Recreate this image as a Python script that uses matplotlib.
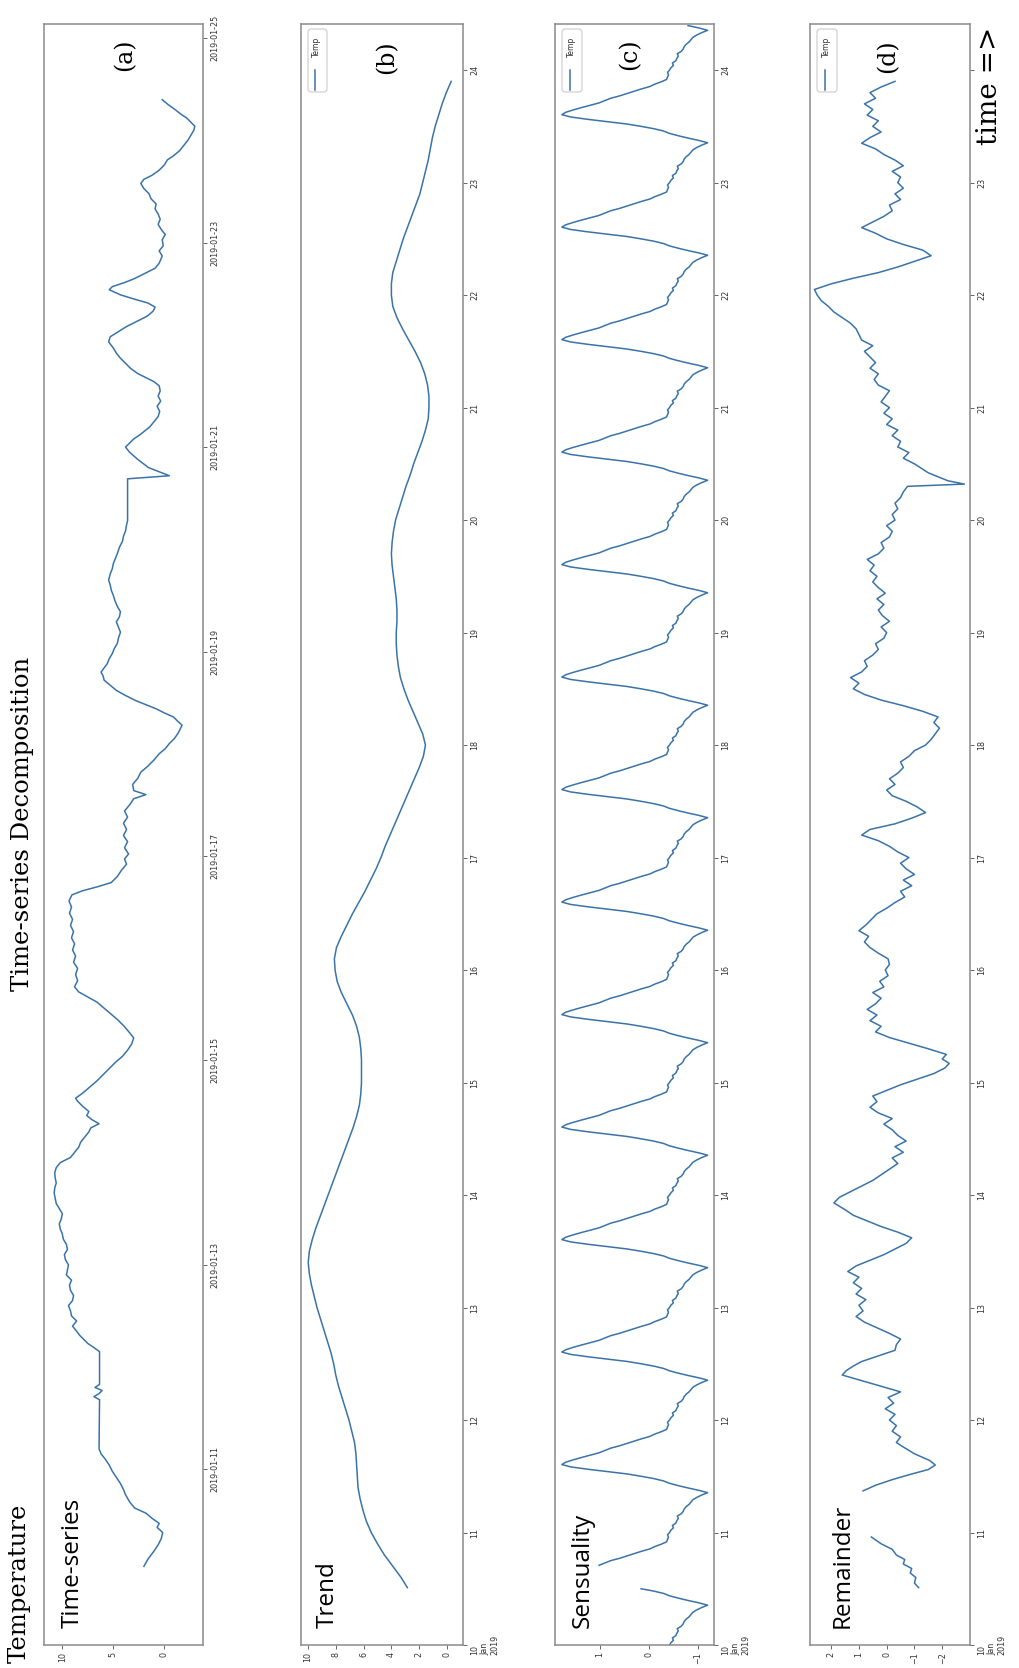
import numpy as np
import matplotlib
matplotlib.use("Agg")
import matplotlib.pyplot as plt
import pandas as pd
from matplotlib.patches import FancyBboxPatch
from matplotlib.lines import Line2D

# ---- data (day of January 2019 as float, value) ----
obs_t = [10.05, 10.12, 10.2, 10.26, 10.32, 10.38, 10.43, 10.47, 10.52, 10.57,
         10.62, 10.68, 10.75, 10.8, 10.86, 10.92, 10.98, 11.04, 11.1, 11.15,
         11.2, 11.68, 11.71, 11.74, 11.77, 11.8, 11.83, 12.15, 12.19, 12.23,
         12.27, 12.31, 12.35, 12.4, 12.45, 12.5, 12.55, 12.6, 12.65, 12.7,
         12.75, 12.8, 12.85, 12.9, 12.95, 13.0, 13.05, 13.1, 13.15, 13.2,
         13.25, 13.3, 13.35, 13.4, 13.45, 13.5, 13.55, 13.6, 13.65, 13.7,
         13.75, 13.8, 13.85, 13.9, 13.95, 14.0, 14.05, 14.1, 14.15, 14.2,
         14.25, 14.3, 14.34, 14.38, 14.42, 14.46, 14.5, 14.55, 14.6, 14.63,
         14.68, 14.74, 14.8, 14.86, 14.92, 14.98, 15.04, 15.1, 15.16, 15.22,
         15.27, 15.33, 15.4, 15.46, 15.52, 15.57, 15.62, 15.67, 15.72, 15.78,
         15.84, 15.9, 15.96, 16.02, 16.08, 16.14, 16.2, 16.26, 16.32, 16.38,
         16.44, 16.5, 16.56, 16.62, 16.66, 16.7, 16.74, 16.8, 16.86, 16.92,
         16.97, 17.02, 17.08, 17.14, 17.2, 17.26, 17.32, 17.38, 17.44, 17.5,
         17.56, 17.6, 17.64, 17.7, 17.76, 17.82, 17.88, 17.94, 18.0, 18.05,
         18.1, 18.15, 18.2, 18.25, 18.28, 18.32, 18.36, 18.4, 18.44, 18.48,
         18.52, 18.57, 18.62, 18.67, 18.72, 18.76, 18.8, 18.84, 18.88, 18.93,
         18.98, 19.03, 19.08, 19.13, 19.19, 19.24, 19.29, 19.34, 19.39, 19.44,
         19.5, 19.55, 19.6, 19.65, 19.7, 19.76, 19.81, 19.86, 19.91, 19.96,
         20.02, 20.08, 20.13, 20.18, 20.24, 20.28, 20.69, 20.72, 20.8, 20.88,
         20.95, 21.0, 21.04, 21.08, 21.12, 21.16, 21.2, 21.25, 21.3, 21.35,
         21.4, 21.45, 21.5, 21.55, 21.6, 21.64, 21.68, 21.72, 21.77, 21.82,
         21.87, 21.92, 21.97, 22.03, 22.08, 22.13, 22.18, 22.23, 22.28, 22.33,
         22.37, 22.41, 22.45, 22.49, 22.54, 22.57, 22.61, 22.65, 22.7, 22.75,
         22.8, 22.87, 22.92, 22.97, 23.03, 23.08, 23.13, 23.18, 23.23, 23.28,
         23.33, 23.38, 23.43, 23.48, 23.53, 23.58, 23.62, 23.66, 23.71, 23.76,
         23.81, 23.85, 23.9, 23.95, 24.0, 24.05, 24.1, 24.14, 24.18, 24.22,
         24.26, 24.3, 24.35, 24.4]
obs_v = [2.0, 1.6, 1.0, 0.6, 0.3, 0.15, 0.7, 0.5, 1.2, 1.8,
         2.9, 3.4, 3.8, 4.0, 4.3, 4.7, 5.1, 5.4, 5.8, 6.2,
         6.4, 6.35, 6.9, 6.4, 6.1, 6.8, 6.35, 6.35, 6.9, 7.5,
         7.9, 8.3, 8.6, 9.0, 8.6, 9.1, 9.2, 9.4, 9.0, 8.9,
         9.2, 9.3, 9.1, 9.6, 9.5, 9.4, 9.7, 9.8, 9.5, 9.6,
         9.9, 10.0, 10.2, 10.3, 10.1, 10.0, 10.3, 10.6, 10.7, 10.8,
         10.75, 10.6, 10.7, 10.75, 10.6, 10.2, 9.2, 8.8, 8.4, 8.2,
         7.8, 7.4, 7.2, 6.4, 7.1, 7.6, 7.4, 8.0, 8.5, 8.7,
         8.0, 7.3, 6.6, 6.0, 5.4, 4.8, 4.1, 3.6, 3.2, 3.0,
         3.4, 3.9, 4.6, 5.3, 6.0, 6.6, 7.5, 8.4, 8.8, 8.5,
         8.7, 8.5, 8.9, 8.7, 9.0, 8.8, 9.1, 8.9, 9.2, 9.0,
         9.3, 9.1, 9.35, 9.05, 8.0, 6.5, 5.2, 4.6, 4.2, 3.7,
         3.9, 3.5, 3.9, 3.6, 4.0, 3.7, 4.0, 3.6, 3.9, 3.4,
         3.0, 1.8, 3.0, 3.1, 2.6, 2.3, 1.6, 1.0, 0.5, -0.1,
         -0.5, -1.0, -1.35, -1.6, -1.75, -1.3, -0.9, 0.0, 0.8, 1.8,
         2.8, 3.8, 4.7, 5.3, 5.9, 6.0, 6.2, 5.9, 5.6, 5.4,
         5.1, 4.9, 4.6, 4.5, 4.3, 4.5, 4.7, 4.4, 4.3, 4.6,
         4.85, 5.0, 5.2, 5.3, 5.46, 5.3, 5.1, 5.0, 4.8, 4.6,
         4.4, 4.1, 4.0, 3.8, 3.7, 3.6, 3.6, -0.5, 1.55, 2.6,
         3.4, 3.8, 3.4, 3.0, 2.4, 1.9, 1.4, 1.0, 0.6, 0.45,
         0.7, 0.35, 0.6, 0.4, 0.5, 1.0, 1.8, 2.6, 3.3, 3.8,
         4.3, 4.7, 5.0, 5.46, 5.3, 4.5, 3.7, 2.7, 1.7, 1.1,
         0.9, 1.6, 3.0, 4.3, 5.4, 5.1, 3.9, 2.9, 1.9, 0.9,
         0.5, 0.2, 0.5, 0.1, 0.2, -0.1, 0.3, 0.6, 0.4, 0.6,
         0.9, 0.8, 1.3, 1.5, 2.0, 2.3, 2.0, 1.2, 0.5, 0.0,
         -0.3, -0.9, -1.5, -1.9, -2.3, -2.6, -2.9, -3.0, -2.6, -2.2,
         -1.6, -1.1, -0.4, 0.2]

trend_t = [10.51, 10.6, 10.7, 10.8, 10.9, 11.0, 11.1, 11.2, 11.3, 11.4, 11.5, 11.6, 11.7, 11.8, 11.9,
           12.0, 12.1, 12.2, 12.3, 12.4, 12.5, 12.6, 12.7, 12.8, 12.9, 13.0, 13.1, 13.2, 13.3, 13.4,
           13.5, 13.6, 13.7, 13.8, 13.9, 14.0, 14.1, 14.2, 14.3, 14.4, 14.5, 14.6, 14.7, 14.8, 14.9,
           15.0, 15.1, 15.2, 15.3, 15.4, 15.5, 15.6, 15.7, 15.8, 15.9, 16.0, 16.1, 16.2, 16.3, 16.4,
           16.5, 16.6, 16.7, 16.8, 16.9, 17.0, 17.1, 17.2, 17.3, 17.4, 17.5, 17.6, 17.7, 17.8, 17.9,
           18.0, 18.1, 18.2, 18.3, 18.4, 18.5, 18.6, 18.7, 18.8, 18.9, 19.0, 19.1, 19.2, 19.3, 19.4,
           19.5, 19.6, 19.7, 19.8, 19.9, 20.0, 20.1, 20.2, 20.3, 20.4, 20.5, 20.6, 20.7, 20.8, 20.9,
           21.0, 21.1, 21.2, 21.3, 21.4, 21.5, 21.6, 21.7, 21.8, 21.9, 22.0, 22.1, 22.2, 22.3, 22.4,
           22.5, 22.6, 22.7, 22.8, 22.9, 23.0, 23.1, 23.2, 23.3, 23.4, 23.5, 23.6, 23.7, 23.8, 23.9]
trend_v = [2.85, 3.3, 3.9, 4.5, 5.0, 5.45, 5.8, 6.05, 6.25, 6.4, 6.45, 6.5, 6.55, 6.65, 6.85,
           7.05, 7.3, 7.55, 7.8, 8.0, 8.15, 8.35, 8.6, 8.85, 9.1, 9.35, 9.55, 9.75, 9.9, 9.98,
           9.9, 9.7, 9.45, 9.15, 8.85, 8.55, 8.25, 7.95, 7.65, 7.35, 7.05, 6.75, 6.5, 6.3, 6.2,
           6.15, 6.15, 6.15, 6.2, 6.3, 6.5, 6.8, 7.2, 7.6, 7.9, 8.05, 8.1, 7.95, 7.6, 7.2,
           6.8, 6.35, 5.9, 5.5, 5.1, 4.75, 4.45, 4.1, 3.75, 3.4, 3.05, 2.7, 2.35, 2.0, 1.7,
           1.55, 1.75, 2.1, 2.45, 2.8, 3.1, 3.35, 3.5, 3.6, 3.65, 3.65, 3.6, 3.6, 3.65, 3.75,
           3.85, 3.95, 4.0, 3.95, 3.85, 3.7, 3.45, 3.2, 2.95, 2.65, 2.4, 2.1, 1.8, 1.55, 1.35,
           1.3, 1.3, 1.4, 1.6, 1.9, 2.3, 2.75, 3.2, 3.6, 3.9, 4.0, 4.0, 3.9, 3.65, 3.4,
           3.15, 2.85, 2.55, 2.25, 1.95, 1.75, 1.55, 1.35, 1.2, 1.05, 0.85, 0.6, 0.35, 0.05, -0.3]

# one day of the seasonal component, every 30 minutes from 00:00
season_day = [-0.42, -0.45, -0.50, -0.48, -0.55, -0.57, -0.60, -0.58, -0.66, -0.70, -0.72, -0.76,
              -0.82, -0.86, -0.90, -0.98, -1.08, -1.20, -1.02, -0.80, -0.60, -0.42, -0.30, -0.10,
              0.16, 0.45, 0.85, 1.25, 1.60, 1.78, 1.70, 1.55, 1.38, 1.20, 1.02, 0.90,
              0.78, 0.60, 0.45, 0.30, 0.15, -0.02, -0.12, -0.25, -0.36, -0.38, -0.40, -0.38]
season_gap = (10.5, 10.7)
season_dot = 10.604

res_t = [10.51, 10.55, 10.6, 10.64, 10.68, 10.72, 10.76, 10.8, 10.85, 10.9, 10.96, 11.15,
         11.37, 11.42, 11.47, 11.52, 11.56, 11.6, 11.64, 11.7, 11.76, 11.8, 11.85, 11.9, 11.95, 12.0,
         12.05, 12.1, 12.15, 12.2, 12.25, 12.3, 12.35, 12.4, 12.44, 12.48, 12.52, 12.57, 12.62, 12.67,
         12.72, 12.77, 12.82, 12.87, 12.92, 12.97, 13.02, 13.07, 13.12, 13.17, 13.22, 13.27, 13.32,
         13.37, 13.42, 13.47, 13.52, 13.57, 13.62, 13.67, 13.72, 13.77, 13.82, 13.87, 13.93, 13.98,
         14.03, 14.08, 14.13, 14.18, 14.23, 14.28, 14.33, 14.38, 14.43, 14.48, 14.53, 14.58, 14.63,
         14.68, 14.73, 14.78, 14.83, 14.88, 14.93, 14.98, 15.03, 15.08, 15.13, 15.17, 15.21, 15.25,
         15.3, 15.35, 15.4, 15.45, 15.5, 15.55, 15.6, 15.65, 15.7, 15.75, 15.8, 15.85, 15.9, 15.95,
         16.0, 16.05, 16.1, 16.15, 16.2, 16.25, 16.3, 16.35, 16.4, 16.45, 16.5, 16.55, 16.6, 16.65,
         16.7, 16.75, 16.8, 16.85, 16.9, 16.95, 17.0, 17.05, 17.1, 17.15, 17.2, 17.25, 17.3, 17.35,
         17.4, 17.45, 17.5, 17.55, 17.6, 17.65, 17.7, 17.75, 17.8, 17.85, 17.9, 17.95, 18.0, 18.05,
         18.1, 18.15, 18.2, 18.25, 18.3, 18.35, 18.4, 18.45, 18.5, 18.55, 18.6, 18.65, 18.7, 18.75,
         18.8, 18.85, 18.9, 18.95, 19.0, 19.05, 19.1, 19.15, 19.2, 19.25, 19.3, 19.35, 19.4, 19.45,
         19.5, 19.55, 19.6, 19.65, 19.7, 19.75, 19.8, 19.85, 19.9, 19.95, 20.0, 20.05, 20.1, 20.15,
         20.2, 20.25, 20.3, 20.32, 20.35, 20.42, 20.5, 20.55, 20.6, 20.65, 20.7, 20.75, 20.8, 20.85,
         20.9, 20.95, 21.0, 21.05, 21.1, 21.15, 21.2, 21.25, 21.3, 21.35, 21.4, 21.45, 21.5, 21.55,
         21.6, 21.65, 21.7, 21.75, 21.8, 21.85, 21.9, 21.95, 22.0, 22.05, 22.1, 22.15, 22.2, 22.25,
         22.3, 22.35, 22.4, 22.45, 22.5, 22.55, 22.6, 22.65, 22.7, 22.75, 22.8, 22.85, 22.9, 22.95,
         23.0, 23.05, 23.1, 23.15, 23.2, 23.25, 23.3, 23.35, 23.4, 23.45, 23.5, 23.55, 23.6, 23.65,
         23.7, 23.75, 23.8, 23.85, 23.9]
res_v = [-1.15, -1.0, -1.05, -0.85, -0.9, -0.6, -0.65, -0.35, -0.2, 0.2, 0.55, np.nan,
         0.85, 0.4, -0.2, -0.9, -1.5, -1.75, -1.55, -1.0, -0.6, -0.35, -0.5, -0.2, -0.35, -0.1,
         -0.3, 0.05, -0.25, -0.05, -0.5, 0.2, 0.9, 1.6, 1.45, 1.2, 0.9, 0.3, -0.3, -0.35,
         -0.5, -0.1, 0.35, 0.8, 1.1, 0.85, 1.0, 0.75, 1.1, 0.9, 1.2, 1.0, 1.4,
         1.1, 0.6, 0.1, -0.3, -0.7, -0.9, -0.4, 0.2, 0.7, 1.2, 1.5, 1.9, 1.7,
         1.3, 0.9, 0.5, 0.2, -0.1, -0.4, -0.2, -0.6, -0.3, -0.7, -0.4, -0.2, 0.1,
         -0.2, 0.3, 0.6, 0.35, 0.5, 0.0, -0.5, -1.1, -1.7, -2.1, -2.25, -2.0, -2.15,
         -1.5, -0.8, -0.1, 0.4, 0.2, 0.6, 0.35, 0.7, 0.4, 0.2, 0.5, 0.1, 0.25, -0.05,
         0.05, -0.1, -0.05, 0.3, 0.6, 0.8, 0.65, 1.0, 0.75, 0.55, 0.35, 0.0, -0.3, -0.65,
         -0.5, -0.9, -0.6, -1.0, -0.7, -0.5, -0.8, -0.4, -0.1, 0.3, 0.9, 0.6, -0.3, -0.9,
         -1.4, -1.1, -0.7, -0.2, 0.0, -0.3, -0.1, -0.4, -0.6, -0.5, -0.8, -1.0, -1.4, -1.6,
         -1.75, -1.9, -1.7, -1.85, -1.3, -0.6, 0.2, 0.8, 1.2, 1.0, 1.3, 0.9, 0.7, 0.8,
         0.5, 0.3, 0.4, 0.1, 0.0, 0.2, -0.1, 0.15, 0.3, 0.1, 0.35, 0.05, 0.3, 0.5,
         0.35, 0.6, 0.45, 0.7, 0.3, 0.1, 0.2, -0.1, -0.2, 0.0, -0.3, -0.2, -0.4, -0.3,
         -0.5, -0.6, -0.75, -2.8, -2.2, -1.5, -1.0, -0.6, -0.8, -0.4, -0.5, -0.2, -0.4, 0.0,
         -0.2, 0.1, -0.1, 0.2, 0.05, -0.1, 0.3, 0.45, 0.3, 0.6, 0.4, 0.6, 0.8, 0.5,
         0.9, 1.0, 1.1, 1.3, 1.6, 1.9, 2.1, 2.35, 2.5, 2.6, 2.0, 1.2, 0.3, -0.4,
         -1.0, -1.6, -1.3, -0.6, 0.0, 0.4, 0.9, 0.5, 0.1, -0.2, -0.1, -0.5, -0.3, -0.6,
         -0.4, -0.5, -0.2, -0.6, -0.3, 0.1, 0.4, 0.9, 0.6, 0.2, 0.5, 0.3, 0.7, 0.5,
         0.8, 0.4, 0.6, 0.2, -0.3]

data_start, data_end = 10.0, 24.41

W, H = 1020, 1668
BLUE = "#3a73a8"
SPINE = "#8a8a8a"


def to_dates(days):
    days = np.asarray(days, dtype=float)
    secs = np.round((days - 1) * 86400).astype("int64")
    return np.datetime64("2019-01-01T00:00:00") + secs.astype("timedelta64[s]")


def px_box(x0, x1, top=24, bottom=1645):
    return [x0 / W, 1 - bottom / H, (x1 - x0) / W, (bottom - top) / H]


# seasonal series, 30 min steps
season_t = data_start + np.arange(len(season_day) * 15) / 48.0
season_t = season_t[season_t <= data_end]
season_v = np.tile(season_day, 15)[:len(season_t)].astype(float)
in_gap = (season_t > season_gap[0]) & (season_t < season_gap[1])
season_v[in_gap] = np.nan
dot_i = np.argmin(abs(season_t - season_dot))

fig = plt.figure(figsize=(W / 100, H / 100), dpi=100)

panels = [
    ("a", (44, 203), (-3.8, 11.8), [0, 5, 10]),
    ("b", (301, 463), (-1.15, 10.5), [0, 2, 4, 6, 8, 10]),
    ("c", (555, 714), (-1.33, 1.92), [-1, 0, 1]),
    ("d", (810, 970), (-3.0, 2.76), [-2, -1, 0, 1, 2]),
]

axes = {}
for key, (x0, x1), (vmin, vmax), vticks in panels:
    ax = fig.add_axes(px_box(x0, x1))
    axes[key] = ax
    if key == "a":
        ax.plot(obs_v, to_dates(obs_t), color=BLUE, lw=1.1)
        ax.set_ylim(to_dates([9.28])[0], to_dates([25.14])[0])
        day_ticks = to_dates([11, 13, 15, 17, 19, 21, 23, 25])
        day_labels = list(pd.to_datetime(day_ticks).strftime("%Y-%m-%d"))
    else:
        if key == "b":
            ax.plot(trend_v, to_dates(trend_t), color=BLUE, lw=1.1)
        elif key == "c":
            ax.plot(season_v, to_dates(season_t), color=BLUE, lw=1.1)
            ax.plot([season_v[dot_i]], to_dates([season_t[dot_i]]), "o", color=BLUE, ms=1.5)
        else:
            ax.plot(res_v, to_dates(res_t), color=BLUE, lw=1.1)
        ax.set_ylim(to_dates([data_start])[0], to_dates([data_end])[0])
        day_ticks = to_dates(list(range(10, 25)))
        day_labels = [str(d.day) for d in pd.to_datetime(day_ticks)]
        day_labels[0] = "10\nJan\n2019"
        if key == "d":
            day_labels[-1] = ""  # hidden under the "time =>" note
    ax.set_xlim(vmax, vmin)
    ax.set_xticks(vticks)
    ax.set_xticklabels([str(v).replace("-", "\u2212") for v in vticks], rotation=90, fontsize=5.8,
                       color="#333333")
    ax.yaxis.tick_right()
    ax.set_yticks(day_ticks)
    ax.set_yticklabels(day_labels, rotation=90, va="center", fontsize=5.8, color="#333333")
    ax.tick_params(length=3, width=0.7, color="#666666", pad=2)
    for sp in ax.spines.values():
        sp.set_color(SPINE)
        sp.set_linewidth(1.1)

# rotated legends ("Temp") in b, c, d
for bx0, bx1, lx in [(308, 327, 315), (562, 582, 570), (817, 837, 825)]:
    fig.add_artist(FancyBboxPatch((bx0 / 100, (H - 92) / 100), (bx1 - bx0) / 100, 63 / 100,
                                  boxstyle="round,pad=0,rounding_size=0.03",
                                  transform=fig.dpi_scale_trans, fc="white", ec="#cccccc", lw=0.8))
    fig.add_artist(Line2D([lx / 100, lx / 100], [(H - 90) / 100, (H - 70) / 100],
                          transform=fig.dpi_scale_trans, color=BLUE, lw=1.1))
    fig.text((lx + 1) / W, 1 - 47 / H, "Temp", rotation=90, fontsize=5.5, ha="center", va="center",
             color="#333333")

serif = "DejaVu Serif"
fig.text(23 / W, 1 - 824 / H, "Time-series Decomposition", rotation=90, family=serif,
         fontsize=17.5, ha="center", va="center")
fig.text(19 / W, 1 - 1583 / H, "Temperature", rotation=90, family=serif,
         fontsize=17.5, ha="center", va="center")
for lbl, x, y in [("(a)", 125, 55), ("(b)", 387, 57), ("(c)", 630, 54), ("(d)", 888, 56)]:
    fig.text(x / W, 1 - y / H, lbl, rotation=90, family=serif, fontsize=17, ha="center", va="center")
fig.text(990 / W, 1 - 86 / H, "time =>", rotation=90, family=serif, fontsize=20,
         ha="center", va="center")

for lbl, x in [("Time-series", 73), ("Trend", 328), ("Sensuality", 583), ("Remainder", 843)]:
    fig.text(x / W, 1 - 1628 / H, lbl, rotation=90, family="Open Sans", fontsize=17.5,
             ha="center", va="bottom")

fig.savefig("out.png", dpi=100)
